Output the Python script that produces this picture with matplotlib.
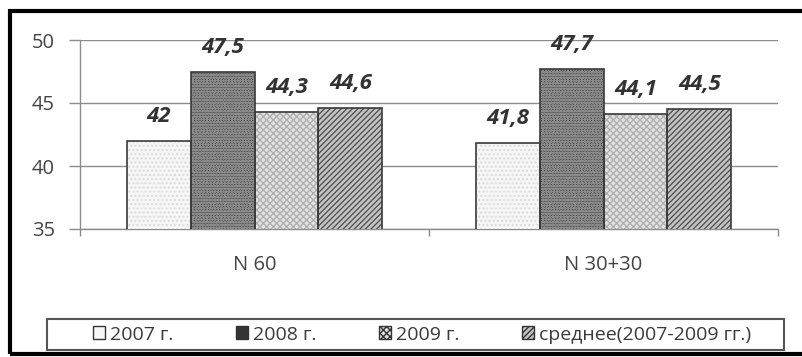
import matplotlib
matplotlib.use("Agg")
import matplotlib.pyplot as plt
from matplotlib.patches import Rectangle, Patch
import numpy as np

categories = ["N 60", "N 30+30"]
series_names = ["2007 г.", "2008 г.", "2009 г.", "среднее(2007-2009 гг.)"]
v2007 = [42.0, 41.8]
v2008 = [47.5, 47.7]
v2009 = [44.3, 44.1]
vavg = [44.6, 44.5]
label_text = [["42", "41,8"], ["47,5", "47,7"], ["44,3", "44,1"], ["44,6", "44,5"]]
series = [v2007, v2008, v2009, vavg]
y_ticks = [35, 40, 45, 50]

plt.rcParams['font.family'] = ['Open Sans', 'DejaVu Sans']
plt.rcParams['hatch.linewidth'] = 1.0

face = ['#f6f6f6', '#3a3a3a', '#e2e2e2', '#c4c4c4']
hcol = ['#dadada', '#8a8a8a', '#b0b0b0', '#555555']
hatches = ['....', 'oooooo', 'xxxxx', '//////']

fig = plt.figure(figsize=(8.02, 3.57), dpi=100)
ax = fig.add_axes([80/802, 1-229/357, (778-80)/802, (229-40)/357])

x = np.arange(len(categories))
w = 0.183
for i, vals in enumerate(series):
    xs = x + (i - 1.5) * w
    ax.bar(xs, vals, w, bottom=0, facecolor=face[i], edgecolor=hcol[i],
           hatch=hatches[i], linewidth=0, zorder=3)
    ax.bar(xs, vals, w, bottom=0, fill=False, edgecolor='#3a3a3a',
           linewidth=1.2, zorder=4)
    for xi, v, t in zip(xs, vals, label_text[i]):
        ax.annotate(t, (xi, v), xytext=(0, 10), textcoords='offset points',
                    ha='center', va='bottom', fontsize=16, fontweight='bold',
                    fontstyle='italic', color='#333333')

ax.set_ylim(35, 50)
ax.set_xlim(-0.5, 1.5)
ax.set_yticks(y_ticks)
ax.grid(axis='y', color='#8c8c8c', linewidth=1.0, zorder=0)
ax.set_axisbelow(True)
ax.tick_params(axis='y', length=8, width=1, color='#8c8c8c', pad=10,
               labelsize=14.5, labelcolor='#444444')
ax.set_xticks(x)
ax.set_xticklabels(categories)
ax.tick_params(axis='x', which='major', length=0, pad=19, labelsize=14.5,
               labelcolor='#444444')
ax.set_xticks([-0.5, 0.5, 1.5], minor=True)
ax.tick_params(axis='x', which='minor', length=5, width=1, color='#8c8c8c')
for s in ['top', 'right']:
    ax.spines[s].set_visible(False)
for s in ['left', 'bottom']:
    ax.spines[s].set_color('#8c8c8c')
    ax.spines[s].set_linewidth(1.0)
ax.set_facecolor('none')

# outer frame
fig.patches.append(Rectangle((10/802, 1-354/357), 1.0, (354-11)/357,
                             transform=fig.transFigure, fill=False,
                             edgecolor='black', linewidth=3, zorder=10))
# legend box
fig.patches.append(Rectangle((47/802, 1-350/357), (784-47)/802, 31/357,
                             transform=fig.transFigure, fill=False,
                             edgecolor='#555555', linewidth=1.5, zorder=10))

handles = [Patch(facecolor=face[i], edgecolor='#333333', hatch=hatches[i] if i != 0 else None,
                 linewidth=1.0) for i in range(4)]
fig.legend(handles, series_names, loc='center', bbox_to_anchor=(422/802, 1-334.5/357),
           ncol=4, frameon=False, fontsize=14, handlelength=0.6, handleheight=0.6,
           handletextpad=0.25, columnspacing=3.25, labelcolor='#3a3a3a')

fig.savefig('out.png', dpi=100)
